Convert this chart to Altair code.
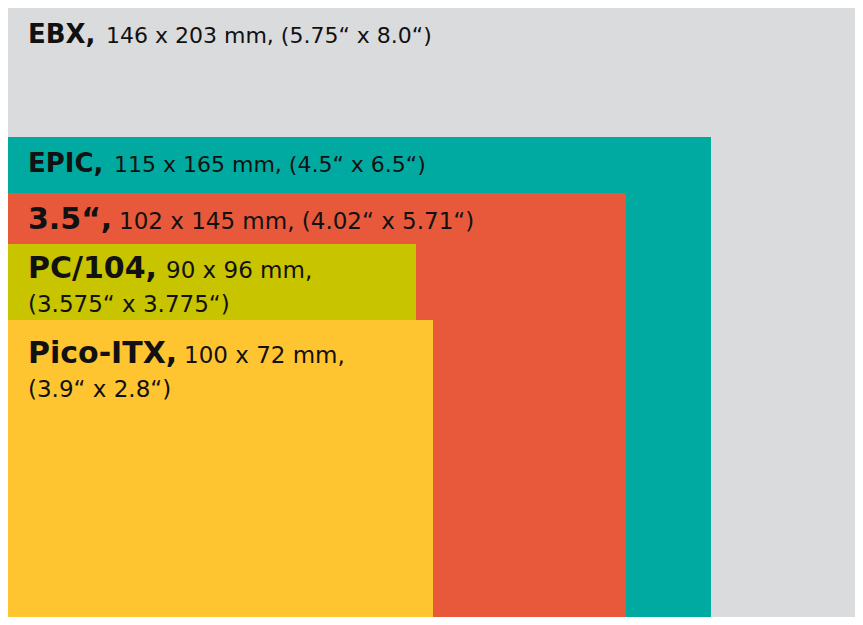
import altair as alt
import pandas as pd

# ---- data ----
boards = ["EBX", "EPIC", "3.5“", "PC/104", "Pico-ITX"]
mm_w = [146, 115, 102, 90, 100]
mm_h = [203, 165, 145, 96, 72]
inch_w = ["5.75", "4.5", "4.02", "3.575", "3.9"]
inch_h = ["8.0", "6.5", "5.71", "3.775", "2.8"]
# drawn extents of each board (picture units, origin at bottom-left corner)
drawn_right = [858, 706, 621, 411, 428]
drawn_top = [620, 488, 432, 381, 305]
wrap = [False, False, False, True, True]
colors = ["#dadbdd", "#00aaa0", "#e8593b", "#c8c400", "#fec530"]

# ---- layout (label placement) ----
label_x = 23
label_drop = [38, 35, 36, 33.5, 43]
regular_x = [101, 109, 114, 161, 179]
bold_size = [26, 26, 30, 30, 30]
reg_size = [22, 22, 23, 23, 23]
line_gap = 34

rect_df = pd.DataFrame({
    "board": boards,
    "x0": [0] * len(boards),
    "x1": drawn_right,
    "y0": [0] * len(boards),
    "y1": drawn_top,
    "order": list(range(len(boards))),
})

rows_bold, rows_reg = [], []
for i, b in enumerate(boards):
    base = drawn_top[i] - label_drop[i]
    rows_bold.append({"board": b, "txt": b + ",", "x": label_x, "y": base, "fs": bold_size[i]})
    dims = f"{mm_w[i]} x {mm_h[i]} mm,"
    inches = f"({inch_w[i]}“ x {inch_h[i]}“)"
    if wrap[i]:
        rows_reg.append({"board": b, "txt": dims, "x": regular_x[i], "y": base, "fs": reg_size[i]})
        rows_reg.append({"board": b, "txt": inches, "x": label_x, "y": base - line_gap, "fs": reg_size[i]})
    else:
        rows_reg.append({"board": b, "txt": dims + " " + inches, "x": regular_x[i], "y": base, "fs": reg_size[i]})

bold_df = pd.DataFrame(rows_bold)
reg_df = pd.DataFrame(rows_reg)

xs = alt.Scale(domain=[3, 850], nice=False, zero=False)
ys = alt.Scale(domain=[8, 617], nice=False, zero=False)

rects = alt.Chart(rect_df).mark_rect(clip=True, strokeWidth=0).encode(
    x=alt.X("x0:Q", scale=xs, axis=None),
    x2="x1:Q",
    y=alt.Y("y0:Q", scale=ys, axis=None),
    y2="y1:Q",
    color=alt.Color("board:N", scale=alt.Scale(domain=boards, range=colors), legend=None),
    order="order:Q",
)

bold = alt.Chart(bold_df).mark_text(
    align="left", baseline="alphabetic", font="DejaVu Sans", fontWeight="bold", color="#111111"
).encode(
    x=alt.X("x:Q", scale=xs, axis=None),
    y=alt.Y("y:Q", scale=ys, axis=None),
    text="txt:N",
    size=alt.Size("fs:Q", scale=None),
)

regular = alt.Chart(reg_df).mark_text(
    align="left", baseline="alphabetic", font="DejaVu Sans", fontWeight="normal", color="#111111"
).encode(
    x=alt.X("x:Q", scale=xs, axis=None),
    y=alt.Y("y:Q", scale=ys, axis=None),
    text="txt:N",
    size=alt.Size("fs:Q", scale=None),
)

chart = alt.layer(rects, bold, regular).properties(
    width=847,
    height=609,
    autosize=alt.AutoSizeParams(type="none"),
    padding=0,
    background="#ffffff",
).configure_view(stroke=None)

chart.save("out.html", embed_options={"renderer": "svg", "actions": False})
